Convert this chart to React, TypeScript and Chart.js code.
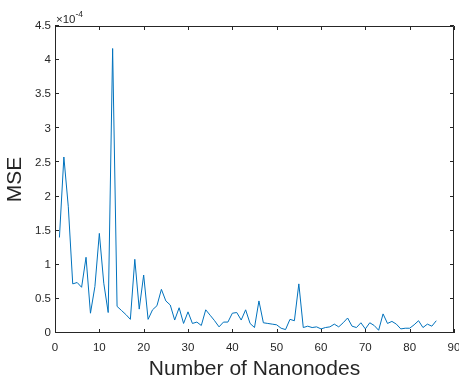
import React, { useEffect, useRef } from "react";
import { Chart, registerables } from "chart.js";

Chart.register(...registerables);

// Number of nanonodes (x) and MSE values in units of 1e-4 (y)
const nanonodes: number[] = Array.from({ length: 86 }, (_, i) => i + 1);
const mseE4: number[] = [
  1.40, 2.58, 1.85, 0.72, 0.74, 0.67, 1.11, 0.29, 0.68, 1.46,
  0.73, 0.30, 4.17, 0.39, 0.33, 0.27, 0.20, 1.08, 0.35, 0.85,
  0.20, 0.34, 0.40, 0.64, 0.47, 0.41, 0.19, 0.37, 0.14, 0.31,
  0.14, 0.16, 0.11, 0.34, 0.26, 0.18, 0.09, 0.16, 0.16, 0.29,
  0.30, 0.19, 0.34, 0.14, 0.08, 0.47, 0.15, 0.14, 0.13, 0.12,
  0.07, 0.05, 0.20, 0.18, 0.72, 0.08, 0.10, 0.08, 0.09, 0.06,
  0.08, 0.09, 0.13, 0.09, 0.15, 0.22, 0.10, 0.08, 0.15, 0.06,
  0.15, 0.11, 0.04, 0.28, 0.14, 0.17, 0.13, 0.06, 0.07, 0.07,
  0.12, 0.18, 0.08, 0.13, 0.10, 0.18,
];
const xTicks: number[] = [0, 10, 20, 30, 40, 50, 60, 70, 80, 90];
const yTicks: number[] = [0, 0.5, 1, 1.5, 2, 2.5, 3, 3.5, 4, 4.5];
const xTitle = "Number of Nanonodes";
const yTitle = "MSE";
const exponentBase = "\u00d710";
const exponentPower = "-4";

const AXIS_COLOR = "#262626";
const LINE_COLOR = "#0072BD";
const FONT = "'Liberation Sans', Arial, Helvetica, sans-serif";

const boxPlugin = {
  id: "matlabBox",
  afterDraw(chart: any) {
    const { ctx, chartArea } = chart;
    const { left, right, top, bottom } = chartArea;
    const xs = chart.scales.x;
    const ys = chart.scales.y;
    ctx.save();
    ctx.strokeStyle = AXIS_COLOR;
    ctx.lineWidth = 1;
    ctx.beginPath();
    ctx.rect(Math.round(left) + 0.5, Math.round(top) + 0.5, Math.round(right - left) - 1, Math.round(bottom - top) - 1);
    ctx.stroke();
    const tl = 4;
    ctx.beginPath();
    xTicks.forEach((t) => {
      const px = Math.round(xs.getPixelForValue(t)) + 0.5;
      ctx.moveTo(px, bottom);
      ctx.lineTo(px, bottom - tl);
      ctx.moveTo(px, top);
      ctx.lineTo(px, top + tl);
    });
    yTicks.forEach((t) => {
      const py = Math.round(ys.getPixelForValue(t)) - 0.5;
      ctx.moveTo(left, py);
      ctx.lineTo(left + tl, py);
      ctx.moveTo(right, py);
      ctx.lineTo(right - tl, py);
    });
    ctx.stroke();
    // exponent label
    ctx.fillStyle = AXIS_COLOR;
    ctx.textBaseline = "alphabetic";
    ctx.textAlign = "left";
    ctx.font = `11.5px ${FONT}`;
    ctx.fillText(exponentBase, left + 1, top - 3);
    const w = ctx.measureText(exponentBase).width;
    ctx.font = `8.5px ${FONT}`;
    ctx.fillText(exponentPower, left + 1 + w, top - 9);
    ctx.restore();
  },
};

export default function App() {
  const canvasRef = useRef<HTMLCanvasElement | null>(null);

  useEffect(() => {
    document.body.style.margin = "0";
    const canvas = canvasRef.current;
    if (!canvas) return;
    const chart = new Chart(canvas, {
      type: "line",
      data: {
        labels: nanonodes,
        datasets: [
          {
            data: nanonodes.map((x, i) => ({ x, y: mseE4[i] })),
            borderColor: LINE_COLOR,
            borderWidth: 1,
            pointRadius: 0,
            tension: 0,
            fill: false,
          },
        ],
      },
      options: {
        responsive: false,
        animation: false,
        events: [],
        layout: { padding: { top: 26, right: 5, left: 0, bottom: 0 } },
        plugins: {
          legend: { display: false },
          tooltip: { enabled: false },
        },
        scales: {
          x: {
            type: "linear",
            min: 0,
            max: 90,
            afterBuildTicks: (scale: any) => {
              scale.ticks = xTicks.map((v) => ({ value: v }));
            },
            afterFit: (scale: any) => {
              scale.height = 46;
              scale.paddingLeft = 0;
              scale.paddingRight = 0;
            },
            grid: { display: false, drawTicks: false },
            border: { display: false },
            ticks: {
              color: AXIS_COLOR,
              font: { family: FONT, size: 11.5 },
              padding: 8,
              maxRotation: 0,
              autoSkip: false,
            },
            title: {
              display: true,
              text: xTitle,
              color: AXIS_COLOR,
              font: { family: FONT, size: 21, lineHeight: 0.9 },
              padding: { top: 0, bottom: 0 },
            },
          },
          y: {
            type: "linear",
            min: 0,
            max: 4.5,
            afterBuildTicks: (scale: any) => {
              scale.ticks = yTicks.map((v) => ({ value: v }));
            },
            afterFit: (scale: any) => {
              scale.width = 55;
              scale.paddingTop = 0;
              scale.paddingBottom = 0;
            },
            grid: { display: false, drawTicks: false },
            border: { display: false },
            ticks: {
              color: AXIS_COLOR,
              font: { family: FONT, size: 11.5 },
              padding: 4,
              autoSkip: false,
              callback: (v: any) => String(v),
            },
            title: {
              display: true,
              text: yTitle,
              color: AXIS_COLOR,
              font: { family: FONT, size: 21, lineHeight: 0.9 },
              padding: { top: 6, bottom: 0 },
            },
          },
        },
      },
      plugins: [boxPlugin],
    } as any);
    return () => chart.destroy();
  }, []);

  return (
    <div style={{ position: "absolute", left: 0, top: 0, width: 459, height: 379, background: "#fff" }}>
      <canvas ref={canvasRef} width={459} height={379} style={{ width: 459, height: 379, display: "block" }} />
    </div>
  );
}
